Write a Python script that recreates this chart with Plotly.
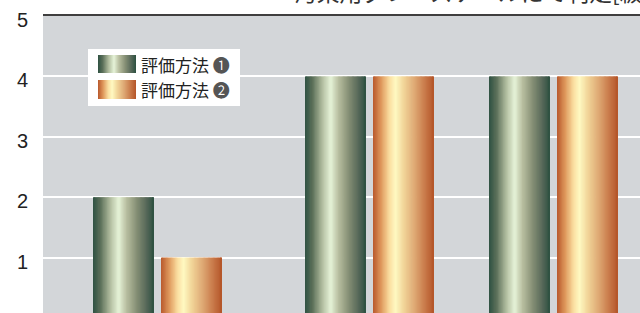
import plotly.graph_objects as go

# ---- data ----
categories = ["条件A", "条件B", "条件C"]
series_names = ["評価方法 ❶", "評価方法 ❷"]
method1 = [2, 4, 4]
method2 = [1, 4, 4]
y_ticks = [1, 2, 3, 4, 5]
title_text = "汚染用グレースケールにて判定[級]"

# ---- layout helpers ----
W, H = 640, 313
ML, MT = 43, 16
PW, PH = W - ML, H - MT
group_pos = [0.0, 1.0, 1.868]          # category slots on the x axis
bar_w = 0.2877
offsets = [-0.3042, 0.0165]

green_stops = [(0.00, (46, 81, 66)), (0.12, (90, 110, 88)), (0.28, (176, 188, 158)),
               (0.42, (230, 243, 216)), (0.55, (184, 190, 160)), (0.72, (132, 142, 116)),
               (0.88, (85, 103, 88)), (1.00, (44, 80, 64))]
copper_stops = [(0.00, (184, 88, 44)), (0.13, (222, 150, 90)), (0.27, (250, 222, 160)),
                (0.37, (255, 249, 194)), (0.50, (242, 214, 154)), (0.70, (220, 164, 112)),
                (0.86, (200, 120, 72)), (1.00, (180, 84, 40))]


def grad(stops, t):
    for (t0, c0), (t1, c1) in zip(stops, stops[1:]):
        if t0 <= t <= t1:
            f = (t - t0) / (t1 - t0) if t1 > t0 else 0
            c = [round(a + (b - a) * f) for a, b in zip(c0, c1)]
            return "rgb(%d,%d,%d)" % tuple(c)
    c = stops[-1][1]
    return "rgb(%d,%d,%d)" % c


N = 48
fig = go.Figure()
for vals, stops, off in [(method1, green_stops, offsets[0]), (method2, copper_stops, offsets[1])]:
    sw = bar_w / N
    for i in range(N):
        t = (i + 0.5) / N
        o = off + i * sw
        w = min(sw * 1.6, off + bar_w - o)
        fig.add_trace(go.Bar(
            x=group_pos, y=vals, offset=o, width=w,
            marker=dict(color=grad(stops, t), line=dict(width=0)),
            showlegend=False, hoverinfo="skip"))

fig.update_layout(
    width=W, height=H,
    margin=dict(l=ML, r=0, t=MT, b=0, autoexpand=False),
    paper_bgcolor="white", plot_bgcolor="#d3d6d9",
    barmode="overlay",
    showlegend=False,
    xaxis=dict(range=[-0.540, 2.276], showgrid=False, zeroline=False,
               showticklabels=False, side="top", showline=True, automargin=False,
               linecolor="#3f3f3f", linewidth=2, fixedrange=True),
    yaxis=dict(range=[0.083, 5], tickvals=y_ticks, showgrid=True, automargin=False,
               gridcolor="white", gridwidth=2, zeroline=False,
               tickfont=dict(family="Liberation Sans, Arial, sans-serif", size=20, color="#222"),
               ticklabelstandoff=14, ticklabelshift=4, showline=False),
)


def px_x(px):
    return (px - ML) / PW


def px_y(py):
    return (H - py) / PH


shapes = []
# legend box
shapes.append(dict(type="rect", xref="paper", yref="paper",
                   x0=px_x(88), x1=px_x(240), y0=px_y(106), y1=px_y(49),
                   fillcolor="white", line=dict(width=0), layer="above"))
for (y0, y1), stops in [((55, 73), green_stops), ((80, 99), copper_stops)]:
    n = 38
    for i in range(n):
        t = (i + 0.5) / n
        shapes.append(dict(type="rect", xref="paper", yref="paper",
                           x0=px_x(98 + i), x1=px_x(98 + i + 1.5 if i < n - 1 else 98 + i + 1),
                           y0=px_y(y1), y1=px_y(y0),
                           fillcolor=grad(stops, t), line=dict(width=0), layer="above"))
fig.update_layout(shapes=shapes)

for name, py in zip(series_names, [64, 89]):
    label, num = name.split(" ")
    fig.add_annotation(xref="paper", yref="paper", x=px_x(139), y=px_y(py),
                       xanchor="left", yanchor="middle", showarrow=False,
                       text=label + " <span style='color:#555'>" + num + "</span>",
                       font=dict(family="Noto Sans CJK JP", size=17, color="#222"))

fig.add_annotation(xref="paper", yref="paper", x=px_x(292), y=px_y(-8),
                   xanchor="left", yanchor="middle", showarrow=False,
                   text=title_text,
                   font=dict(family="Noto Sans CJK JP", size=22.8, color="#333"))

fig.write_html("out.html", config={"displayModeBar": False},
               post_script="document.body.style.margin='0';document.body.style.overflow='hidden';")
